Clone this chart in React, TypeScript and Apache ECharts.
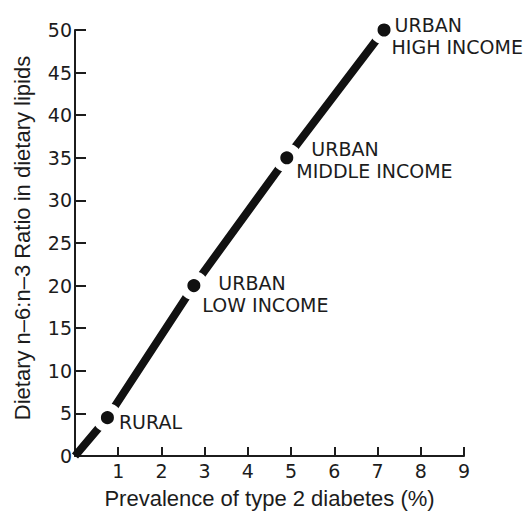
import React, { useEffect, useRef } from "react";
import * as echarts from "echarts";

// Data
const groupLine1 = ["RURAL", "URBAN", "URBAN", "URBAN"];
const groupLine2 = ["", "LOW INCOME", "MIDDLE INCOME", "HIGH INCOME"];
const diabetesPrevalence = [0.75, 2.75, 4.9, 7.15];
const n6n3Ratio = [4.5, 20, 35, 50];
const origin = [0, 0];

// Label placement (styling, not data)
const labelDistance = [-3, -6, -5, -7];
const labelOffsetY = [4, 8, 2, 6];
const firstLineIndent = [0, 16, 15, 3];

const INK = "#1c1c1c";
const LABEL_FONT = "DejaVu Sans";
const TITLE_FONT = "Liberation Sans";

export default function App() {
  const ref = useRef<HTMLDivElement>(null);

  useEffect(() => {
    if (!ref.current) return;
    const chart = echarts.init(ref.current, undefined, { renderer: "svg" });

    const pointItems = diabetesPrevalence.map((x, i) => {
      const line2 = groupLine2[i];
      return {
        value: [x, n6n3Ratio[i]],
        label: {
          show: true,
          position: "right",
          distance: labelDistance[i],
          offset: [0, labelOffsetY[i]],
          align: "left",
          formatter: line2 ? `{a|${groupLine1[i]}}\n{b|${line2}}` : `{a|${groupLine1[i]}}`,
          rich: {
            a: {
              fontFamily: LABEL_FONT,
              fontSize: 19,
              lineHeight: 22,
              color: INK,
              padding: [0, 0, 0, firstLineIndent[i]],
            },
            b: {
              fontFamily: LABEL_FONT,
              fontSize: 19,
              lineHeight: 22,
              color: INK,
            },
          },
        },
      };
    });

    const data = [
      { value: origin, symbol: "none", label: { show: false } },
      ...pointItems,
    ];

    chart.setOption({
      animation: false,
      grid: { left: 75, right: 60, top: 30, bottom: 54 },
      xAxis: {
        type: "value",
        min: 0,
        max: 9,
        interval: 1,
        name: "Prevalence of type 2 diabetes (%)",
        nameLocation: "middle",
        nameGap: 31,
        nameTextStyle: { fontFamily: TITLE_FONT, fontSize: 22, color: INK },
        splitLine: { show: false },
        axisLine: { show: true, lineStyle: { color: INK, width: 2 } },
        axisTick: { show: true, inside: true, length: 9, lineStyle: { color: INK, width: 2 } },
        axisLabel: {
          margin: 5,
          fontFamily: LABEL_FONT,
          fontSize: 19,
          color: INK,
          formatter: (v: number) => (v === 0 ? "" : String(v)),
        },
      },
      yAxis: {
        type: "value",
        min: 0,
        max: 50,
        interval: 5,
        name: "Dietary n–6:n–3 Ratio in dietary lipids",
        nameLocation: "middle",
        nameGap: 42,
        nameTextStyle: { fontFamily: TITLE_FONT, fontSize: 22, color: INK, padding: [0, 0, 0, 10] },
        splitLine: { show: false },
        axisLine: { show: true, lineStyle: { color: INK, width: 2 } },
        axisTick: { show: true, inside: true, length: 11, lineStyle: { color: INK, width: 2 } },
        axisLabel: {
          margin: 3,
          fontFamily: LABEL_FONT,
          fontSize: 19,
          color: INK,
        },
      },
      series: [
        {
          type: "line",
          data,
          symbol: "circle",
          symbolSize: 21,
          lineStyle: { color: "#111", width: 8, cap: "butt" },
          itemStyle: { color: "#111", borderColor: "#ffffff", borderWidth: 8 },
          emphasis: { disabled: true },
          z: 3,
        },
      ],
    });

    return () => chart.dispose();
  }, []);

  return (
    <div
      ref={ref}
      style={{ position: "fixed", left: 0, top: 0, width: 524, height: 514, background: "#fff" }}
    />
  );
}
